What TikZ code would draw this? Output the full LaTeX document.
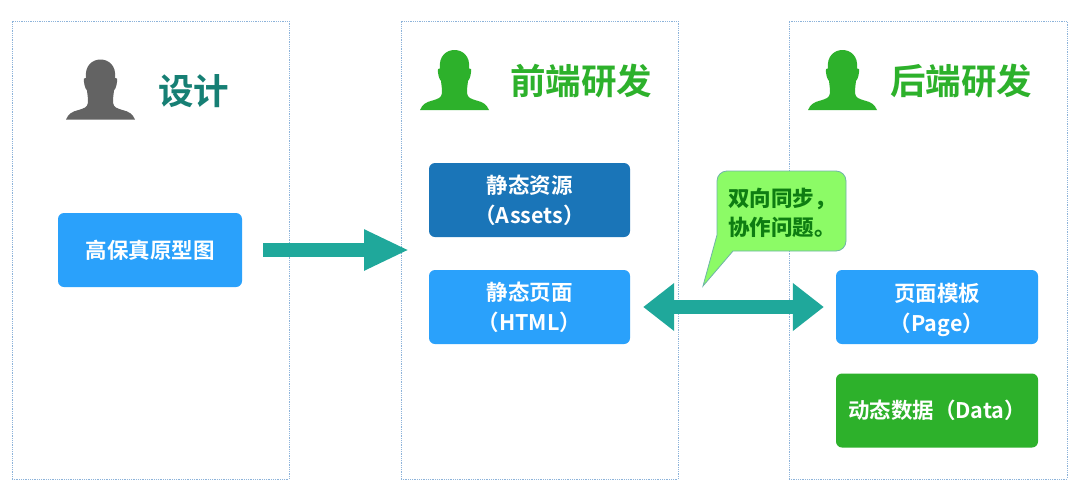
\documentclass[tikz,border=0pt]{standalone}
\usepackage{fontspec}
\setmainfont{Noto Sans CJK SC}[BoldFont={Noto Sans CJK SC Bold}]
\newfontfamily\heavyfont{Noto Sans CJK SC Black}
\usetikzlibrary{arrows.meta}
\definecolor{panelline}{HTML}{8DB3DA}
\definecolor{teal}{HTML}{1FA89B}
\definecolor{titleteal}{HTML}{167F74}
\definecolor{grn}{HTML}{2DB12B}
\definecolor{blu}{HTML}{2AA1FB}
\definecolor{dblu}{HTML}{1A75B8}
\definecolor{grey}{HTML}{636363}
\definecolor{calloutfill}{HTML}{8CFB66}
\definecolor{calloutline}{HTML}{6FB4A8}
\definecolor{callouttext}{HTML}{0E7D12}
\tikzset{
  x=1pt,y=-1pt,
  panel/.style={draw=panelline,densely dotted,line width=.8pt,fill=white},
  tbox/.style={rounded corners=6pt,text=white,font=\fontsize{21.5}{30}\selectfont\bfseries,align=center,inner sep=0pt},
  title/.style={font=\fontsize{35.5}{40}\selectfont\bfseries,inner sep=0pt,anchor=west},
  blockarrow/.style={teal,line width=14pt},
  person/.pic={
    \fill[pic actions] (-34.5,0)
      .. controls (-32,-6) and (-28,-8) .. (-22,-9.5)
      .. controls (-17,-11) and (-13,-12) .. (-12.5,-17)
      .. controls (-12.5,-22) and (-13,-25) .. (-13.5,-29)
      .. controls (-15.5,-31) and (-17,-37) .. (-16.5,-41)
      .. controls (-16,-42) and (-15,-42) .. (-14.5,-41.5)
      .. controls (-16,-54) and (-8,-60) .. (0,-60)
      .. controls (8,-60) and (16,-54) .. (14.5,-41.5)
      .. controls (15,-42) and (16,-42) .. (16.5,-41)
      .. controls (17,-37) and (15.5,-31) .. (13.5,-29)
      .. controls (13,-25) and (12.5,-22) .. (12.5,-17)
      .. controls (13,-12) and (17,-11) .. (22,-9.5)
      .. controls (28,-8) and (32,-6) .. (34.5,0) -- cycle;
  }
}
\begin{document}
\begin{tikzpicture}
\useasboundingbox (0,0) rectangle (1080,488);
% panels
\node[panel,minimum width=277pt,minimum height=458pt,inner sep=0pt] (p1) at (150.5,250) {};
\node[panel,minimum width=277pt,minimum height=458pt,inner sep=0pt] (p2) at (539.5,250) {};
\node[panel,minimum width=278pt,minimum height=458pt,inner sep=0pt] (p3) at (928,250) {};
% persons
\pic[grey] at (100.5,119.5) {person};
\pic[grn] at (454.5,110) {person};
\pic[grn] at (842.5,110) {person};
% titles
\node[title,text=titleteal] (t1) at (158,91) {设计};
\node[title,text=grn] (t2) at (510,81) {前端研发};
\node[title,text=grn] (t3) at (890,81) {后端研发};
% boxes
\node[tbox,fill=blu,minimum width=184pt,minimum height=74pt] (proto) at (150,250) {高保真原型图};
\node[tbox,fill=dblu,minimum width=201pt,minimum height=74pt] (assets) at (529.5,200) {静态资源\\（Assets）};
\node[tbox,fill=blu,minimum width=201pt,minimum height=74pt] (html) at (529.5,307) {静态页面\\（HTML）};
\node[tbox,fill=blu,minimum width=202pt,minimum height=74pt] (page) at (937,307) {页面模板\\\smash{（Page）}};
\node[tbox,fill=grn,minimum width=202pt,minimum height=74pt] (data) at (937,410.5) {动态数据（Data）};
% arrows
\coordinate (arrowend) at (409,250);
\draw[blockarrow,shorten <=21pt,-{Triangle[length=45pt,width=38pt]}] (proto.east) -- (arrowend);
\draw[blockarrow,shorten <=13pt,shorten >=12pt,{Triangle[length=31pt,width=46pt]}-{Triangle[length=31pt,width=46pt]}] (html.east) -- (page.west);
% callout
\draw[fill=calloutfill,draw=calloutline,line width=.8pt]
  (717,235) [rounded corners=10pt] -- (717,171) -- (846,171) -- (846,251) [rounded corners=0pt] -- (733,251) -- (703,286) -- cycle;
\node[font=\fontsize{21.5}{29}\selectfont\heavyfont,text=callouttext,align=left,inner sep=0pt,anchor=west] (note) at (728,213) {双向同步，\\协作问题。};
\end{tikzpicture}
\end{document}
